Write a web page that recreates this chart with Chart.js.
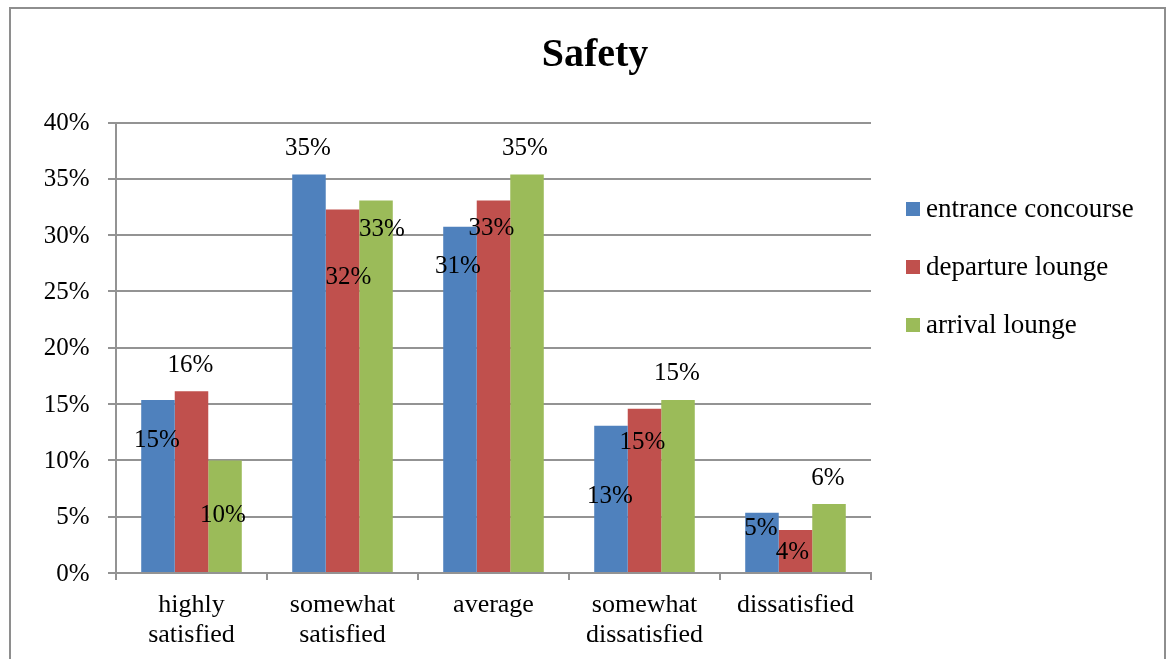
<!DOCTYPE html>
<html><head><meta charset="utf-8">
<script src="https://cdn.jsdelivr.net/npm/chart.js@4"></script>
<style>
html,body{margin:0;padding:0;background:#fff;overflow:hidden;}
#wrap{position:relative;width:1168px;height:659px;}
#frame{position:absolute;left:9px;top:7px;width:1157px;height:700px;border:2px solid #8e8e8e;box-sizing:border-box;}
canvas{position:absolute;left:0;top:0;}
</style></head><body>
<div id="wrap"><div id="frame"></div><canvas id="c" width="1168" height="659"></canvas></div>
<script>
const chartTitle = 'Safety';
const categories = [['highly','satisfied'],['somewhat','satisfied'],'average',['somewhat','dissatisfied'],'dissatisfied'];
const seriesNames = ['entrance concourse','departure lounge','arrival lounge'];
const entranceConcourse = [15.35, 35.38, 30.74, 13.08, 5.36];
const departureLounge   = [16.13, 32.28, 33.08, 14.59, 3.82];
const arrivalLounge     = [9.98, 33.08, 35.38, 15.35, 6.12];
const yTicks = [0, 5, 10, 15, 20, 25, 30, 35, 40];

// styling
const colors = ['#4F81BD', '#C0504D', '#9BBB59'];
const FONT = "'Liberation Serif', 'Times New Roman', serif";
const gridColor = '#939393';
// label nudges [dx, dy] from bar top-centre (style only)
const labelNudge = [
  [[-1,40],[-1,-26],[-2,40],[-1,71],[-1,16]],
  [[-1,-26],[6,68],[-2,28],[-2,34],[-3,22]],
  [[-2,55],[6,29],[-2,-26],[-1,-27],[-1,-26]]
];

const dataLabels = {
  id: 'dataLabels',
  afterDatasetsDraw(chart) {
    const ctx = chart.ctx;
    ctx.save();
    ctx.font = '25px ' + FONT;
    ctx.fillStyle = '#000';
    ctx.textAlign = 'center';
    ctx.textBaseline = 'middle';
    chart.data.datasets.forEach((ds, i) => {
      chart.getDatasetMeta(i).data.forEach((bar, j) => {
        const [dx, dy] = labelNudge[i][j];
        ctx.fillText(Math.round(ds.data[j]) + '%', bar.x + dx, bar.y + dy);
      });
    });
    ctx.restore();
  }
};

const sideLegend = {
  id: 'sideLegend',
  afterDraw(chart) {
    const ctx = chart.ctx, a = chart.chartArea;
    ctx.save();
    ctx.font = '27px ' + FONT;
    ctx.textBaseline = 'middle';
    ctx.textAlign = 'left';
    chart.data.datasets.forEach((ds, i) => {
      const y = a.top + 86.5 + i * 58;
      const x = a.right + 35;
      ctx.fillStyle = ds.backgroundColor;
      ctx.fillRect(x, y - 7, 14, 14);
      ctx.fillStyle = '#000';
      ctx.fillText(ds.label, x + 20, y + 1);
    });
    ctx.restore();
  }
};

new Chart(document.getElementById('c'), {
  type: 'bar',
  data: {
    labels: categories,
    datasets: [
      { label: seriesNames[0], data: entranceConcourse, backgroundColor: colors[0] },
      { label: seriesNames[1], data: departureLounge, backgroundColor: colors[1] },
      { label: seriesNames[2], data: arrivalLounge, backgroundColor: colors[2] }
    ]
  },
  options: {
    responsive: false,
    animation: false,
    devicePixelRatio: 1,
    layout: { padding: { left: 22, right: 0, top: 0, bottom: 0 } },
    datasets: { bar: { categoryPercentage: 0.666, barPercentage: 1.0, borderWidth: 0 } },
    plugins: {
      legend: { display: false },
      tooltip: { enabled: false },
      title: {
        display: true, text: chartTitle, color: '#000',
        font: { family: FONT, size: 40, weight: 'bold', lineHeight: 1.2 },
        padding: { top: 32, bottom: 42.5 }
      }
    },
    scales: {
      x: {
        grid: { display: true, drawOnChartArea: false, drawTicks: true, tickLength: 7, offset: true, color: gridColor, lineWidth: 2 },
        border: { display: true, color: gridColor, width: 2 },
        ticks: { color: '#000', padding: 10.5, maxRotation: 0, autoSkip: false,
                 font: { family: FONT, size: 26, lineHeight: 1.15 } },
        afterFit: s => { s.height = 86; }
      },
      y: {
        min: 0, max: 40,
        grid: { color: gridColor, lineWidth: 2, tickLength: 8, drawTicks: true },
        border: { display: true, color: gridColor, width: 2 },
        ticks: { color: '#000', padding: 18.5, labelOffset: 1, font: { family: FONT, size: 25 },
                 callback: v => v + '%' },
        afterBuildTicks: s => { s.ticks = yTicks.map(v => ({ value: v })); },
        afterFit: s => { s.width = 94; }
      },
      yRight: {
        position: 'right', display: true,
        grid: { display: false, drawTicks: false }, border: { display: false },
        ticks: { display: false },
        afterFit: s => { s.width = 297; }
      }
    }
  },
  plugins: [dataLabels, sideLegend]
});
</script>
</body></html>
